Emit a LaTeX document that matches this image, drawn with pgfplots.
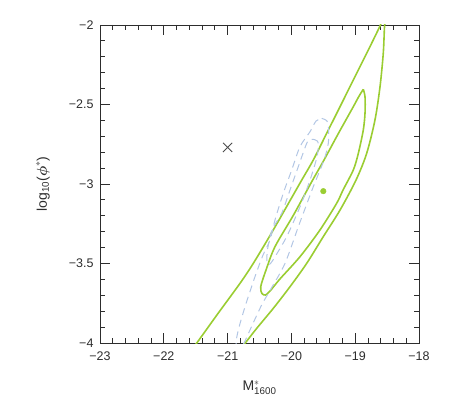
\documentclass[border=0pt]{standalone}
\usepackage{amsmath}
\usepackage{fontspec}
\setmainfont{Liberation Sans}
\usepackage{pgfplots}
\pgfplotsset{compat=1.18}
\definecolor{cgreen}{RGB}{154,205,50}
\definecolor{cblue}{RGB}{178,198,228}
\definecolor{axgray}{RGB}{45,45,45}

\begin{document}
\begin{tikzpicture}
\begin{axis}[
  width=319bp, height=318bp, scale only axis,
  xmin=-23, xmax=-18, ymin=-4, ymax=-2,
  xtick={-23,-22,-21,-20,-19,-18},
  xticklabels={−23,−22,−21,−20,−19,−18},
  ytick={-4,-3.5,-3,-2.5,-2},
  yticklabels={−4,−3.5,−3,−2.5,−2},
  minor x tick num=4, minor y tick num=4,
  tick align=inside,
  major tick length=10bp, minor tick length=5bp,
  axis line style={axgray, line width=0.9bp},
  every tick/.style={axgray, line width=0.9bp},
  tick label style={font=\fontsize{12.5bp}{15bp}\selectfont, text=axgray},
  xticklabel style={yshift=-5bp},
  yticklabel style={xshift=-3bp},
  xlabel={M$^{*}_{\text{1600}}$},
  ylabel={log\textsubscript{10}($\boldsymbol{\phi}^{*}$)},
  label style={font=\fontsize{14bp}{16bp}\selectfont, text=axgray},
  xlabel style={at={(axis description cs:0.5,-0.1415)}, anchor=center},
  ylabel style={at={(axis description cs:-0.179,0.5)}, anchor=center},
]
% outer green contour
\addplot[cgreen, line width=1.6bp, smooth] coordinates {
  (-21.574,-4.044) (-21.487,-4.002) (-21.150,-3.814) (-20.806,-3.625)
  (-20.597,-3.499) (-20.284,-3.289) (-19.865,-2.994) (-19.657,-2.849)
  (-19.447,-2.681) (-19.238,-2.514) (-19.030,-2.346) (-18.820,-2.178)
  (-18.611,-2.006) (-18.572,-1.962) (-18.541,-1.937) (-18.525,-1.962)
  (-18.541,-2.013) (-18.560,-2.178) (-18.611,-2.388) (-18.690,-2.597)
  (-18.820,-2.807) (-18.987,-2.975) (-19.238,-3.164)
  (-19.500,-3.331) (-19.760,-3.499) (-20.022,-3.646) (-20.284,-3.782)
  (-20.544,-3.908) (-20.727,-4.002) (-20.821,-4.050)
};
% inner green contour
\addplot[cgreen, line width=1.6bp, smooth] coordinates {
  (-18.873,-2.404) (-18.948,-2.453) (-19.030,-2.514) (-19.262,-2.681)
  (-19.489,-2.849) (-19.693,-2.994) (-19.967,-3.195) (-20.257,-3.394)
  (-20.398,-3.541) (-20.481,-3.646) (-20.461,-3.689) (-20.406,-3.698)
  (-20.335,-3.673) (-20.179,-3.597) (-19.865,-3.457) (-19.552,-3.289)
  (-19.290,-3.121) (-19.191,-3.038) (-19.030,-2.912) (-18.951,-2.807)
  (-18.873,-2.660) (-18.846,-2.553) (-18.846,-2.453) (-18.873,-2.404)
};
% outer blue dashed contour
\addplot[cblue, line width=1bp, dash pattern=on 7bp off 5bp, smooth] coordinates {
  (-19.525,-2.587) (-19.442,-2.604) (-19.418,-2.648) (-19.422,-2.744)
  (-19.489,-2.849) (-19.657,-3.017) (-19.813,-3.184) (-19.892,-3.269)
  (-20.100,-3.499) (-20.304,-3.648) (-20.466,-3.761) (-20.649,-3.918)
  (-20.743,-4.000) (-20.806,-4.031) (-20.868,-4.006) (-20.832,-3.918)
  (-20.727,-3.772) (-20.571,-3.583) (-20.445,-3.447) (-20.335,-3.352)
  (-20.257,-3.226) (-20.127,-3.058) (-19.995,-2.912) (-19.865,-2.765)
  (-19.708,-2.671) (-19.614,-2.604) (-19.525,-2.587)
};
% inner blue dashed contour
\addplot[cblue, line width=1bp, dash pattern=on 7bp off 5bp, smooth] coordinates {
  (-19.657,-2.719) (-19.592,-2.730) (-19.578,-2.761) (-19.603,-2.836)
  (-19.708,-2.975) (-19.865,-3.143) (-20.069,-3.327) (-20.241,-3.447)
  (-20.335,-3.503) (-20.382,-3.497) (-20.375,-3.415) (-20.304,-3.289)
  (-20.152,-3.184) (-20.022,-3.038) (-19.892,-2.891) (-19.760,-2.744)
  (-19.708,-2.723) (-19.657,-2.719)
};
% best fit point and reference cross
\addplot[only marks, mark=*, mark size=2.8bp, cgreen] coordinates {(-19.5,-3.045)};
\addplot[only marks, mark=x, mark size=6.5bp, mark options={line width=0.9bp, draw=black!70}] coordinates {(-21,-2.77)};
\end{axis}
\path ([xshift=-100bp,yshift=-63bp]current axis.south west) rectangle ([xshift=41bp,yshift=25bp]current axis.north east);
\end{tikzpicture}
\end{document}
